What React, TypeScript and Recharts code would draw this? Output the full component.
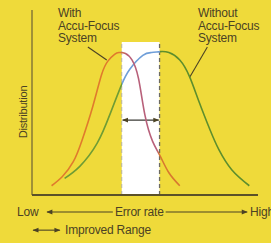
import { ComposedChart, Line, XAxis, YAxis, ReferenceArea, ReferenceLine } from "recharts";

// curve with Accu-Focus (error rate, distribution)
const withX = [9, 14, 19, 23, 28, 32, 35, 38, 40, 43, 46, 49, 52, 55.5, 59, 63, 68];
const withY = [5, 10, 18, 29.5, 48, 65, 72.5, 76, 77, 76.5, 73, 63, 43, 29, 21, 12, 5];

// curve without Accu-Focus
const withoutX = [15, 22, 30, 36, 41, 45, 51, 55, 59, 63, 68, 72.5, 77, 82, 86, 92, 100];
const withoutY = [9, 15.5, 28, 44, 59, 68, 75.5, 77, 77.5, 77, 73, 64, 50, 35, 24.5, 13.5, 5];

// improved range band
const bandX = [41.3, 58.7];
const bandTop = 82.7;
const rangeArrowY = 40.5;

const BG = "#efda3a";
const INK = "#4b4224";
const W = 271;
const H = 243;

const withData = withX.map((x, i) => ({ x, y: withY[i] }));
const withoutData = withoutX.map((x, i) => ({ x, y: withoutY[i] }));

// gradient stops so the part of each curve inside the band takes another colour
const stops = (xs: number[]) => {
  const min = xs[0];
  const max = xs[xs.length - 1];
  return [(bandX[0] - min) / (max - min), (bandX[1] - min) / (max - min)];
};
const withStops = stops(withX);
const withoutStops = stops(withoutX);

const textStyle: React.CSSProperties = {
  position: "absolute",
  fontFamily: "'Liberation Sans', Arial, sans-serif",
  fontSize: 12,
  lineHeight: "12.5px",
  color: INK,
  letterSpacing: -0.2,
  whiteSpace: "nowrap",
};

export default function App() {
  return (
    <div style={{ position: "relative", width: W, height: H, background: BG, overflow: "hidden" }}>
      <style>{`body{margin:0}`}</style>
      <ComposedChart width={W} height={H} margin={{ top: 10, right: 13, left: 32, bottom: 48 }}>
        <defs>
          <linearGradient id="gWith" x1="0" y1="0" x2="1" y2="0">
            <stop offset={0} stopColor="#e07a2c" />
            <stop offset={withStops[0] - 0.02} stopColor="#e07a2c" />
            <stop offset={withStops[0] + 0.04} stopColor="#b8607a" />
            <stop offset={withStops[1] - 0.02} stopColor="#b8607a" />
            <stop offset={withStops[1]} stopColor="#d8782e" />
            <stop offset={1} stopColor="#d8782e" />
          </linearGradient>
          <linearGradient id="gWithout" x1="0" y1="0" x2="1" y2="0">
            <stop offset={0} stopColor="#6f9c34" />
            <stop offset={withoutStops[0]} stopColor="#6f9c34" />
            <stop offset={withoutStops[0]} stopColor="#6f9ed8" />
            <stop offset={withoutStops[1]} stopColor="#6f9ed8" />
            <stop offset={withoutStops[1]} stopColor="#5e8e2c" />
            <stop offset={1} stopColor="#5e8e2c" />
          </linearGradient>
          <marker
            id="ah"
            viewBox="0 0 10 10"
            refX="9"
            refY="5"
            markerWidth="7"
            markerHeight="6"
            markerUnits="userSpaceOnUse"
            orient="auto-start-reverse"
          >
            <path d="M0,1 L10,5 L0,9 z" fill={INK} />
          </marker>
        </defs>
        <XAxis type="number" dataKey="x" domain={[0, 104]} hide allowDataOverflow />
        <YAxis type="number" domain={[0, 100]} hide allowDataOverflow />
        <ReferenceArea x1={bandX[0]} x2={bandX[1]} y1={0} y2={bandTop} fill="#ffffff" fillOpacity={1} stroke="none" ifOverflow="visible" />
        <ReferenceLine segment={[{ x: bandX[0], y: 0 }, { x: bandX[0], y: bandTop }]} stroke="#b9b39a" strokeDasharray="4 3" ifOverflow="visible" />
        <ReferenceLine segment={[{ x: bandX[1], y: 0 }, { x: bandX[1], y: bandTop }]} stroke="#6d6a60" strokeWidth={1.3} strokeDasharray="4 3" ifOverflow="visible" />
        {/* axes */}
        <ReferenceLine segment={[{ x: 0, y: 0 }, { x: 0, y: 100 }]} stroke="#6b6134" strokeWidth={1.2} ifOverflow="visible" />
        <ReferenceLine segment={[{ x: 0, y: 0 }, { x: 104, y: 0 }]} stroke="#5b5128" strokeWidth={1.8} ifOverflow="visible" />
        {/* leader lines */}
        <ReferenceLine segment={[{ x: 25.7, y: 80 }, { x: 34.4, y: 73 }]} stroke={INK} strokeWidth={1.1} ifOverflow="visible" />
        <ReferenceLine segment={[{ x: 80.7, y: 80 }, { x: 72.5, y: 63.5 }]} stroke={INK} strokeWidth={1.1} ifOverflow="visible" />
        {/* improved range arrow */}
        <ReferenceLine
          segment={[{ x: bandX[0] + 0.4, y: rangeArrowY }, { x: bandX[1] - 0.4, y: rangeArrowY }]}
          stroke="#3a3a34"
          strokeWidth={1.3}
          markerStart="url(#ah)"
          markerEnd="url(#ah)"
          ifOverflow="visible"
        />
        {/* error-rate arrows below the axis */}
        <ReferenceLine segment={[{ x: 6.9, y: -9.2 }, { x: 37.2, y: -9.2 }]} stroke={INK} strokeWidth={1.1} markerStart="url(#ah)" ifOverflow="visible" />
        <ReferenceLine segment={[{ x: 61.5, y: -9.2 }, { x: 99, y: -9.2 }]} stroke={INK} strokeWidth={1.1} markerEnd="url(#ah)" ifOverflow="visible" />
        <ReferenceLine segment={[{ x: 0.5, y: -19 }, { x: 12.8, y: -19 }]} stroke={INK} strokeWidth={1.1} markerStart="url(#ah)" markerEnd="url(#ah)" ifOverflow="visible" />
        <Line data={withoutData} dataKey="y" type="natural" dot={false} stroke="url(#gWithout)" strokeWidth={1.6} isAnimationActive={false} />
        <Line data={withData} dataKey="y" type="natural" dot={false} stroke="url(#gWith)" strokeWidth={1.6} isAnimationActive={false} />
      </ComposedChart>

      <div style={{ ...textStyle, left: 58, top: 7 }}>
        With
        <br />
        Accu-Focus
        <br />
        System
      </div>
      <div style={{ ...textStyle, left: 198, top: 7 }}>
        Without
        <br />
        Accu-Focus
        <br />
        System
      </div>
      <div
        style={{
          ...textStyle,
          fontSize: 11,
          left: 23,
          top: 112,
          transform: "translate(-50%, -50%) rotate(-90deg)",
        }}
      >
        Distribution
      </div>
      <div style={{ ...textStyle, left: 17, top: 206 }}>Low</div>
      <div style={{ ...textStyle, left: 115, top: 206 }}>Error rate</div>
      <div style={{ ...textStyle, left: 250, top: 206 }}>High</div>
      <div style={{ ...textStyle, left: 65, top: 224 }}>Improved Range</div>
    </div>
  );
}
